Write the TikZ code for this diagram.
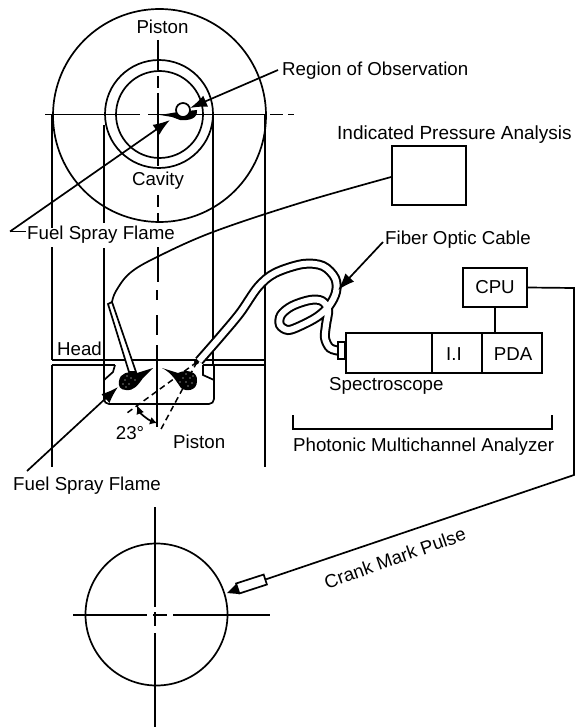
\documentclass[tikz,border=0pt]{standalone}
\usepackage{fontspec}
\setmainfont{Liberation Sans}
\usetikzlibrary{arrows.meta}
\newcommand{\fsz}[1]{\fontsize{#1}{20}\selectfont}
\tikzset{
 ln/.style={line width=1.7pt,black},
 thin line/.style={line width=1.2pt,black},
 dashline/.style={line width=1.5pt,dash pattern=on 6pt off 4pt},
 lab/.style={inner sep=0pt,font=\fsz{18.7},text=black},
 head/.style={-{Latex[length=17pt,width=12pt]}},
 sbox/.style={draw,line width=1.7pt,inner sep=0pt,fill=white}
}
\begin{document}
\begin{tikzpicture}[x=1pt,y=-1pt]
\useasboundingbox (0,0) rectangle (576,727);
\fill[white] (0,0) rectangle (576,727);
% top piston
\draw[ln] (159.5,115.5) circle[radius=106.5];
\draw[ln] (159,114) circle[radius=54];
\draw[ln] (159.5,114.5) circle[radius=43.5];
% centre lines
\foreach \a/\b in {40/70,76/88,93/166,195/207,213/222,247/282}{\draw[thin line] (158,\a) -- (158,\b);}
\foreach \a/\b in {290/300,315/335,345/427}{\draw[thin line] (157,\a) -- (157,\b);}
\foreach \a/\b in {45/140,148/265,270/283,288/294}{\draw[thin line] (\a,114.5) -- (\b,114.5);}
% vertical projection lines
\draw[thin line] (52,115) -- (52,228);
\draw[thin line] (52,247) -- (52,360);
\draw[thin line] (104,125) -- (104,223);
\draw[thin line] (104,248) -- (104,365);
\draw[thin line] (213,115) -- (213,365);
\draw[thin line] (265,115) -- (265,360);
% head
\draw[ln] (52,360) -- (265,360);
\draw[ln] (52,365) -- (115,365);
\draw[ln] (203,365) -- (265,365);
\draw[ln] (52,365) -- (52,467);
\draw[ln] (265,360) -- (265,467);
\draw[ln,rounded corners=5pt] (104,365) -- (104,404) -- (214,404) -- (214,365);
\draw[ln] (115,365) -- (113,372) -- (104,380);
\draw[ln] (203,365) -- (203,375) -- (214,380);
% dash lines & angle
\coordinate (inj) at (197,362);
\coordinate (da) at (127,413);
\coordinate (db) at (160,431);
\draw[dashline] (inj) -- (da);
\draw[dashline] (inj) -- (db);
\draw[ln,{Latex[length=9pt,width=8pt]}-{Latex[length=7pt,width=8pt]}] (137,405) .. controls (140,413) and (148,420) .. (157,423);
\fill (196.5,362) circle[radius=2.5];
% flames
\fill (119,381) .. controls (120,373) and (128,371) .. (137,373) -- (153,368) -- (143,378) .. controls (138,385) and (134,391) .. (126,390) .. controls (120,390) and (118,386) .. (119,381) -- cycle;
\fill (162,368) -- (178,373) .. controls (186,369) and (198,371) .. (197,381) .. controls (197,391) and (186,392) .. (181,388) .. controls (176,381) and (172,373) .. (162,368) -- cycle;
\foreach \p in {(125,380),(129,384),(131,378),(127,376),(123,384),(135,380),(126,387),(183,378),(186,382),(190,378),(188,386),(192,383),(186,374),(180,382),(193,376)}{\fill[white] \p circle[radius=0.7];}
% left injector
\draw[ln,fill=white] (108,304) -- (129,372) -- (136,372) -- (112,302) -- cycle;
% pressure cable
\node[sbox,minimum width=74pt,minimum height=59pt] (ipa) at (429,175.5) {};
\coordinate (cabstart) at (112,302);
\coordinate (cabend) at (ipa.west |- 0,177);
\draw[ln] plot[smooth,tension=0.6] coordinates {(cabstart) (116,291) (130,273) (157,257) (213,232) (300,203) (cabend)};
% fiber tube
\def\fiber{plot[smooth,tension=0.55] coordinates {(199,361) (220,337) (240,313) (258,287) (275,273) (303,264) (323,266) (335,278) (336,292) (329,306) (317,317) (300,326) (288,330) (280,325) (281,315) (292,306) (310,300) (322,301) (328,310) (326,325) (325,338) (330,348) (340,351)}}
\draw[line width=10pt] \fiber;
\draw[white,line width=6pt] \fiber;
% spectroscope
\node[sbox,minimum width=7pt,minimum height=17pt] (conn) at (341.5,350.5) {};
\node[sbox,minimum width=86pt,minimum height=40pt] (spec) at (389,353) {};
\node[sbox,minimum width=50pt,minimum height=40pt] (ii) at (457,353) {};
\node[sbox,minimum width=60pt,minimum height=40pt] (pda) at (512,353) {};
\node[lab] at (454,354) {I.I};
\node[lab] at (513,354) {PDA};
\node[sbox,lab,minimum width=64pt,minimum height=39pt] (cpu) at (495,287.5) {CPU};
\draw[ln] (cpu.south) -- (cpu.south |- pda.north);
% bottom
\draw[ln] (156.5,614.5) circle[radius=71];
\foreach \a/\b in {507/607,612/626,633/727}{\draw[thin line] (155,\a) -- (155,\b);}
\foreach \a/\b in {73/147,153/167,173/270}{\draw[thin line] (\a,615) -- (\b,615);}
% sensor
\node[sbox,minimum width=29pt,minimum height=10.5pt,rotate=18] (sensor) at (251.5,584) {};
\coordinate (tip) at (227,593);
\fill (236,584) -- (tip) -- (239,594) -- cycle;
\coordinate (corner) at (574,288);
\coordinate (bend) at (574,475);
\draw[ln] (cpu.east) -- (corner) -- (bend) -- (sensor.east);
% bracket
\coordinate (bl) at (293,415);
\coordinate (br) at (552,415);
\draw[ln] (bl) -- (293,429) -- (552,429) -- (br);
% observation
\fill (160,115) -- (178,112) -- (197,110) .. controls (198,118) and (190,121) .. (180,120) -- (172,117) -- cycle;
\draw[line width=1.7pt,fill=white] (183,110) circle[radius=7];
% labels arrows
\coordinate (f1) at (10,231.5);
\coordinate (f1t) at (26,231.5);
\draw[ln] (f1t) -- (f1);
\draw[ln,head] (f1) -- (170,120);
\coordinate (r1) at (278,70);
\draw[ln,head] (r1) -- (190,108);
\coordinate (f2) at (27,471);
\draw[ln,head] (f2) -- (118,387);
\coordinate (c1) at (383,242);
\draw[ln,head] (c1) -- (338,290);
% texts
\node[lab] (t1) at (162.5,27) {Piston};
\node[lab,anchor=west] (t2) at (282,71) {Region of Observation};
\node[lab,anchor=west,font=\fsz{19}] (t3) at (337,135) {Indicated Pressure Analysis};
\node[lab] (t4) at (158,181) {Cavity};
\node[lab,anchor=west] (t5) at (27,235) {Fuel Spray Flame};
\node[lab,anchor=west] (t6) at (385,240) {Fiber Optic Cable};
\node[lab,anchor=west] (t7) at (57,349) {Head};
\node[lab,anchor=west] (t8) at (329,386) {Spectroscope};
\node[lab] (t9) at (130,433) {23°};
\node[lab,anchor=west] (t10) at (173,442) {Piston};
\node[lab,anchor=west] (t11) at (293,447) {Photonic Multichannel Analyzer};
\node[lab,anchor=west] (t12) at (13,486) {Fuel Spray Flame};
\node[lab,rotate=19.5] (t13) at (395,558) {Crank Mark Pulse};
\end{tikzpicture}
\end{document}
